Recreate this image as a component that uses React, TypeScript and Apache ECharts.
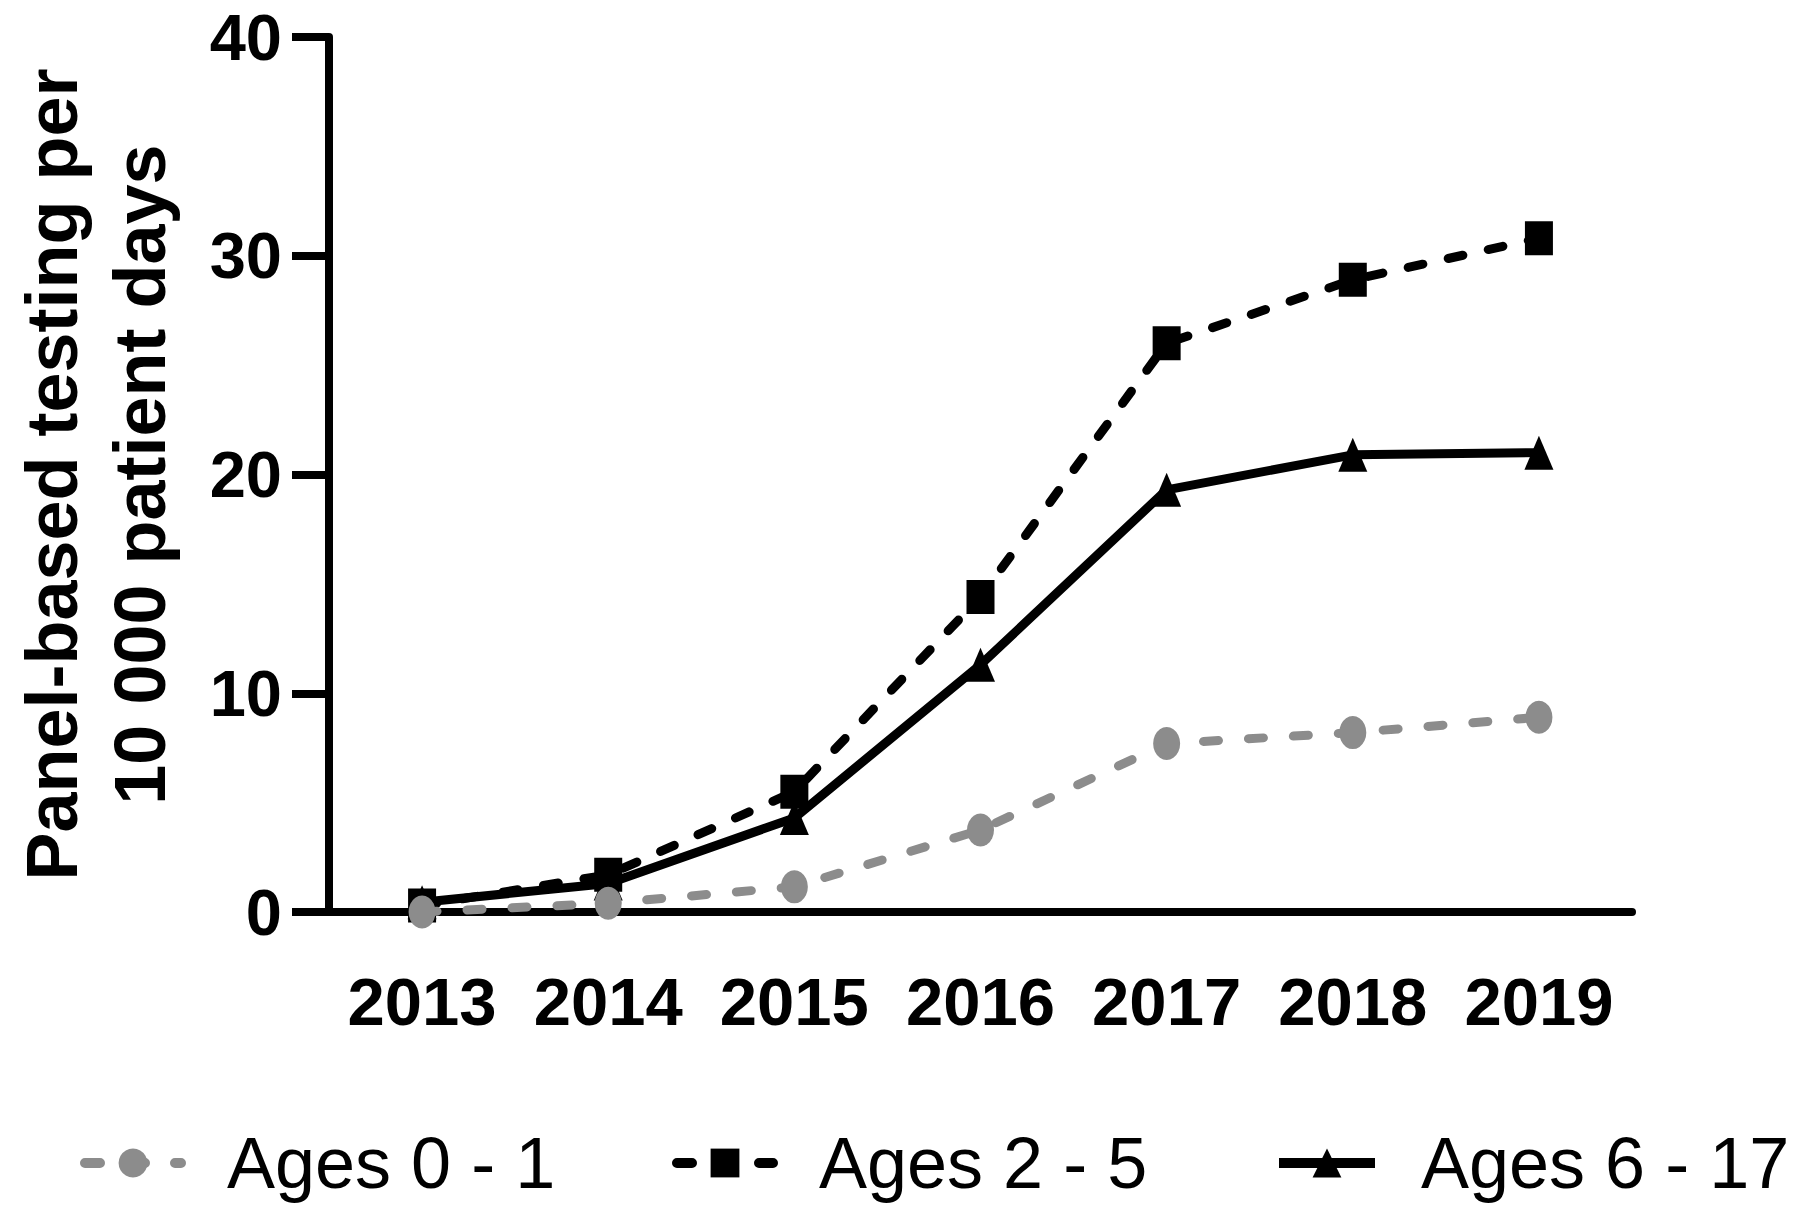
import React, { useEffect, useRef } from "react";
import * as echarts from "echarts";

const years = ["2013", "2014", "2015", "2016", "2017", "2018", "2019"];
const ages0to1 = [0.0, 0.4, 1.15, 3.75, 7.7, 8.2, 8.9];
const ages2to5 = [0.3, 1.7, 5.5, 14.4, 26.0, 28.9, 30.8];
const ages6to17 = [0.45, 1.3, 4.3, 11.3, 19.3, 20.9, 21.0];
const seriesNames = ["Ages 0 - 1", "Ages 2 - 5", "Ages 6 - 17"];
const yTitle = "Panel-based testing per\n10 000 patient days";

export default function App() {
  const ref = useRef<HTMLDivElement>(null);
  useEffect(() => {
    document.body.style.margin = "0";
    const chart = echarts.init(ref.current!, null, { renderer: "svg" });
    const font = "'Liberation Sans', Arial, Helvetica, sans-serif";
    const grey = "#8c8c8c";
    const legendLefts = [80, 672, 1274];
    const legendBase = {
      top: 1127,
      padding: 0,
      itemWidth: 96,
      itemHeight: 36,
      lineStyle: { width: 10 },
      textStyle: {
        fontFamily: font,
        fontSize: 72,
        color: "#000",
        padding: [0, 0, 0, 41],
      },
    };
    chart.setOption({
      animation: false,
      backgroundColor: "#ffffff",
      grid: { left: 312, right: 168, top: 37, bottom: 294, containLabel: false },
      legend: seriesNames.map((n, i) => ({ ...legendBase, left: legendLefts[i], data: [n] })),
      xAxis: {
        type: "category",
        data: years,
        boundaryGap: true,
        axisLine: { lineStyle: { color: "#000", width: 8 } },
        axisTick: { alignWithLabel: true, length: 36, lineStyle: { color: "#000", width: 8 } },
        axisLabel: {
          interval: 0,
          margin: 56,
          fontFamily: font,
          fontWeight: "bold",
          fontSize: 67,
          color: "#000",
        },
        splitLine: { show: false },
      },
      yAxis: {
        type: "value",
        min: 0,
        max: 40,
        interval: 10,
        name: yTitle,
        nameLocation: "middle",
        nameRotate: 90,
        nameGap: 145,
        nameTextStyle: {
          fontFamily: font,
          fontWeight: "bold",
          fontSize: 72,
          lineHeight: 88,
          color: "#000",
        },
        axisLine: { show: true, lineStyle: { color: "#000", width: 8 } },
        axisTick: { show: true, length: 37, lineStyle: { color: "#000", width: 8 } },
        axisLabel: {
          margin: 47,
          fontFamily: font,
          fontWeight: "bold",
          fontSize: 65,
          lineHeight: 58,
          color: "#000",
        },
        splitLine: { show: false },
      },
      series: [
        {
          name: seriesNames[0],
          type: "line",
          data: ages0to1,
          z: 5,
          symbol: "circle",
          symbolSize: [27, 33],
          itemStyle: { color: grey },
          lineStyle: { color: grey, width: 9, type: [15, 30], cap: "round" },
        },
        {
          name: seriesNames[1],
          type: "line",
          data: ages2to5,
          z: 3,
          symbol: "rect",
          symbolSize: [28, 34],
          itemStyle: { color: "#000" },
          lineStyle: { color: "#000", width: 9, type: [15, 26], cap: "round" },
        },
        {
          name: seriesNames[2],
          type: "line",
          data: ages6to17,
          z: 4,
          symbol: "triangle",
          symbolSize: [29, 34],
          itemStyle: { color: "#000" },
          lineStyle: { color: "#000", width: 9, type: "solid" },
        },
      ],
    });
    return () => chart.dispose();
  }, []);
  return <div ref={ref} style={{ width: 1800, height: 1206 }} />;
}
